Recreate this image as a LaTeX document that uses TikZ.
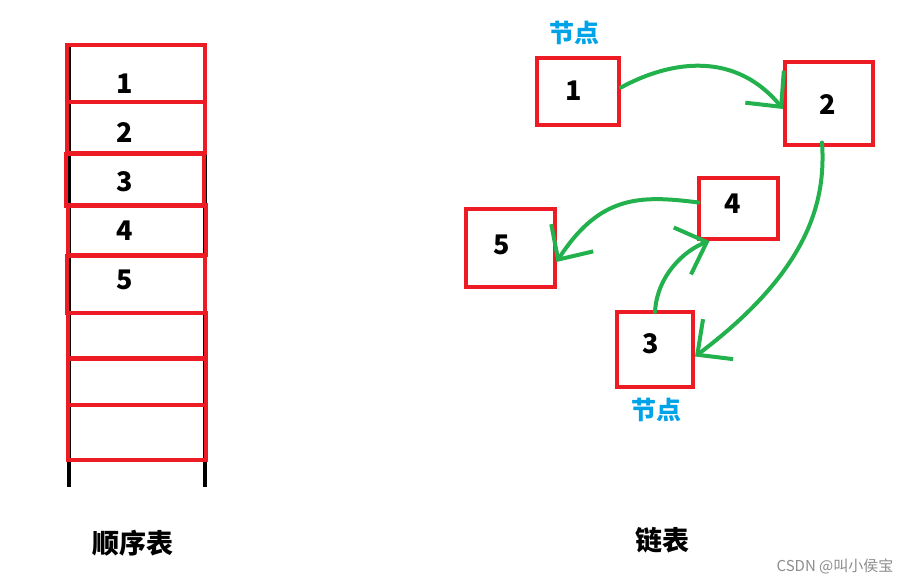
\documentclass[tikz,border=0pt]{standalone}
\usepackage{fontspec}
\setmainfont{Noto Sans CJK SC}
\usetikzlibrary{arrows.meta}
\definecolor{pred}{HTML}{ED1C24}
\definecolor{pgreen}{HTML}{22B14C}
\definecolor{pblue}{HTML}{00A2E8}
\tikzset{
  cell/.style={draw=pred, line width=4pt, minimum width=138pt, minimum height=#1, inner sep=0pt},
  lnode/.style={draw=pred, line width=4pt, inner sep=0pt},
  num/.style={font=\bfseries\fontsize{27}{27}\selectfont},
  link/.style={draw=pgreen, line width=4pt, line cap=round, -{Straight Barb[length=26pt,width=50pt,line width=4pt]}},
  blab/.style={text=pblue, font=\bfseries\fontsize{25}{25}\selectfont},
  title/.style={font=\bfseries\fontsize{27}{27}\selectfont}
}
\begin{document}
\begin{tikzpicture}[x=1pt,y=-1pt]
\useasboundingbox (0,0) rectangle (908,584);
% black side lines of the sequential table
\draw[line width=3.5pt] (69,45) -- (69,487);
\draw[line width=3.5pt] (205,45) -- (205,487);
% cells
\node[cell=57pt] (c1) at (136,73.5) {};
\node[cell=51pt] (c2) at (136,127.5) {};
\node[cell=52pt] (c3) at (135,180) {};
\node[cell=50pt] (c4) at (137,230) {};
\node[cell=57pt] (c5) at (136,284) {};
\node[cell=46pt] (c6) at (137,335.5) {};
\node[cell=47pt] (c7) at (137,381.5) {};
\node[cell=55pt] (c8) at (137,432.5) {};
\node[num] (t1) at (125,84) {1};
\node[num] (t2) at (125,133) {2};
\node[num] (t3) at (125,182) {3};
\node[num] (t4) at (125,231) {4};
\node[num] (t5) at (125,280) {5};
\node[title] (seq) at (133,543) {顺序表};
% linked list nodes
\node[lnode, minimum width=82pt, minimum height=67pt] (n1) at (578,91.5) {};
\node[lnode, minimum width=88pt, minimum height=83pt] (n2) at (829,103) {};
\node[lnode, minimum width=79pt, minimum height=61pt] (n4) at (738,208.5) {};
\node[lnode, minimum width=89pt, minimum height=78pt] (n5) at (510,248) {};
\node[lnode, minimum width=76pt, minimum height=75pt] (n3) at (655,349.5) {};
\node[num] at (574,91) {1};
\node[num] at (828,105) {2};
\node[num] at (733,204) {4};
\node[num] at (502,245) {5};
\node[num] at (651,344) {3};
\node[blab] (lab1) at (574,33) {节点};
\node[blab] (lab2) at (656,410) {节点};
% links
\draw[link] (n1.east) ++(0,-4) .. controls (660,66) and (730,45) .. ([yshift=-6pt]n2.west);
\draw[link] (n2.south) ++(-7,-4) .. controls (826,200) and (810,270) .. ([yshift=-7pt]n3.east);
\draw[link] (n3.north) ++(0,2) .. controls (657,275) and (685,250) .. ([xshift=13pt]n4.south west);
\draw[link] (n4.west) ++(2,-6) .. controls (640,195) and (600,195) .. ([yshift=-14pt]n5.east);
\node[title] (ll) at (662,540) {链表};
\node[text=black!45, font=\fontsize{15}{15}\selectfont] (wm) at (835,566) {CSDN @叫小侯宝};
\end{tikzpicture}
\end{document}
